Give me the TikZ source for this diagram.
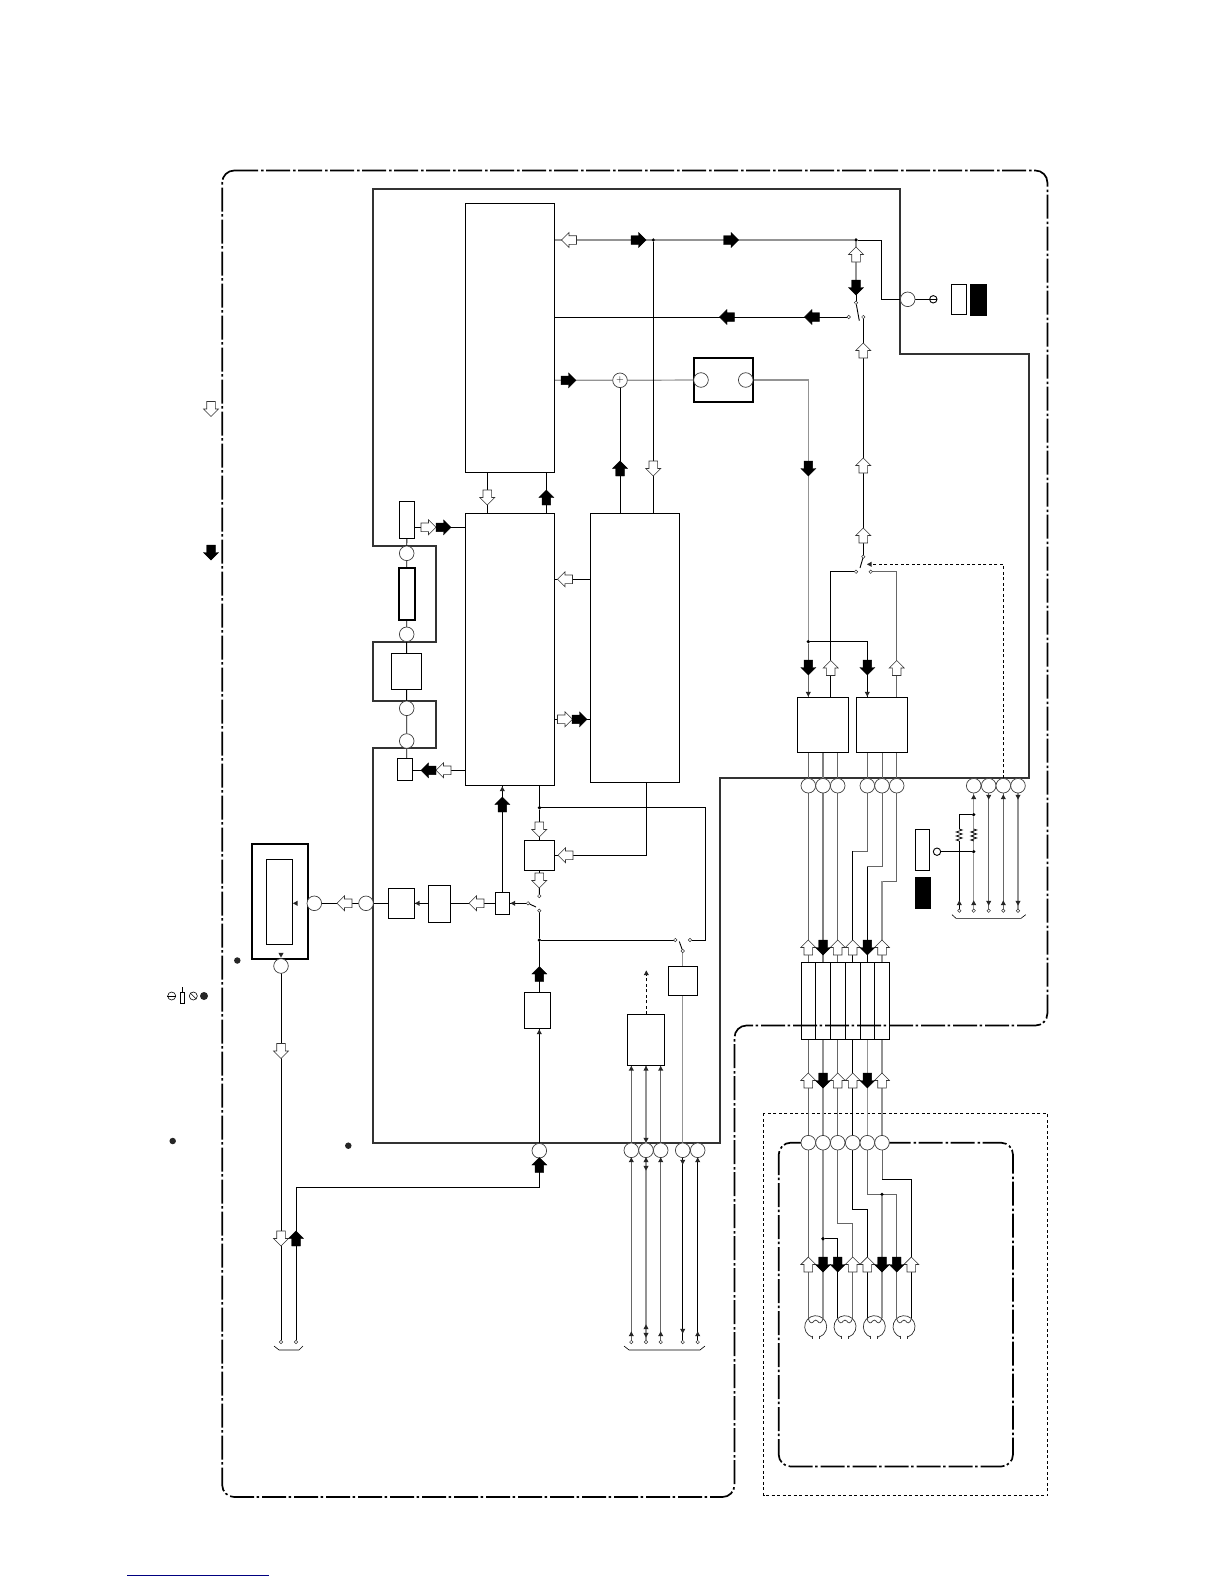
\documentclass[tikz,border=0pt]{standalone}
\usetikzlibrary{backgrounds}
\newcommand\bx[6][boxs]{%
  \pgfmathsetmacro\bxw{#5-#3}\pgfmathsetmacro\bxh{#6-#4}%
  \pgfmathsetmacro\bxx{(#3+#5)/2}\pgfmathsetmacro\bxy{(#4+#6)/2}%
  \node[#1,minimum width=\bxw pt,minimum height=\bxh pt] (#2) at (\bxx,\bxy) {};}
\newcommand\Ho[3]{\pic[hollowarrow,#1] at (#2,#3) {blk};}
\newcommand\So[3]{\pic[solidarrow,#1] at (#2,#3) {blk};}
\newcommand\Tr[3]{\pic[#1] at (#2,#3) {tri};}
\tikzset{
  boxs/.style={draw,line width=0.9pt,fill=white,inner sep=0pt,outer sep=0pt},
  openbox/.style={draw,line width=0.9pt,inner sep=0pt,outer sep=0pt},
  thickbox/.style={draw,line width=1.9pt,fill=white,inner sep=0pt,outer sep=0pt},
  blackbox/.style={draw,fill=black,inner sep=0pt,outer sep=0pt},
  port/.style={circle,draw=black!75,line width=0.7pt,fill=white,minimum size=14.6pt,inner sep=0pt,outer sep=0pt},
  contact/.style={circle,draw=black!80,line width=0.5pt,fill=white,minimum size=3.4pt,inner sep=0pt,outer sep=0pt},
  term/.style={circle,draw,line width=0.9pt,fill=white,minimum size=7.4pt,inner sep=0pt,outer sep=0pt},
  junction/.style={circle,fill=black,minimum size=3.6pt,inner sep=0pt,outer sep=0pt},
  bigdot/.style={circle,fill=black!85,minimum size=6.5pt,inner sep=0pt,outer sep=0pt},
  sig/.style={line width=0.9pt,black},
  msig/.style={line width=0.9pt,black!60},
  gsig/.style={line width=1.2pt,black!42},
  frameline/.style={line width=1.8pt,black!80},
  borderline/.style={line width=1.7pt,black,rounded corners=12pt,dash pattern=on 24pt off 3pt on 2.5pt off 2.5pt},
  dotbox/.style={line width=0.9pt,black,dash pattern=on 3pt off 2.5pt},
  dashsig/.style={line width=0.9pt,black,dash pattern=on 3pt off 2.5pt},
  hollowarrow/.style={draw=black!80,fill=white,line width=0.6pt},
  solidarrow/.style={draw=black,fill=black,line width=0.4pt},
  dirU/.style={rotate=180},dirD/.style={rotate=0},
  dirL/.style={rotate=-90},dirR/.style={rotate=90},
  pics/blk/.style={code={\path[pic actions] (0,7.5)--(7.5,0)--(4.3,0)--(4.3,-7.5)--(-4.3,-7.5)--(-4.3,0)--(-7.5,0)--cycle;}},
  pics/tri/.style={code={\fill[black!85] (0,2.6)--(2.6,-2.2)--(-2.6,-2.2)--cycle;}},
  pics/motor/.style={code={
    \draw[line width=0.7pt,black!80] (-3.5,10.4) arc[start angle=-108.6,delta angle=-322.8,radius=11pt];
    \draw[line width=0.7pt,black!80] (-3.5,9)--(-3.5,12) (3.5,9)--(3.5,12);
    \draw[line width=0.7pt,black!80] (-7.4,-8) .. controls (-6,-3) and (-3,-3) .. (-2,-5.5) .. controls (-1,-7) and (1,-7) .. (2,-5.5) .. controls (3,-3) and (6,-3) .. (7.4,-8);}},
  pics/zig/.style={code={\draw[line width=0.7pt] (0,0)--(3,1)--(-3,3)--(3,5)--(-3,7)--(3,9)--(-3,11)--(0,12);}},
}
\begin{document}
\begin{tikzpicture}[x=1pt,y=-1pt]
\useasboundingbox (0,0) rectangle (1224,1584);
% ---- blocks
\bx{A}{465.3}{203.3}{554.3}{472.3}
\bx{C}{465.3}{513.3}{554.3}{785.3}
\bx{D}{590.3}{513.3}{679.3}{782.3}
\bx{E}{524.3}{840.3}{554.7}{870.7}
\bx{F}{495.3}{892.3}{509.3}{914.3}
\bx{G}{428.3}{885.3}{450.7}{922.3}
\bx{H}{388.3}{888.3}{414.7}{918.3}
\bx[thickbox]{I}{251.7}{844.3}{307.7}{959.3}
\bx{J}{266.3}{859.3}{292.7}{944.7}
\bx{K}{524.3}{992.3}{550.7}{1028.7}
\bx{L}{668.3}{966.3}{697.7}{995.7}
\bx{M}{627.3}{1014.3}{664.7}{1065.5}
\bx{N}{797.3}{697.3}{848.7}{752.3}
\bx{O}{856.3}{697.3}{907.7}{752.3}
\bx[thickbox]{B}{693.8}{357.7}{753.3}{402}
\bx{P1}{399.3}{501.3}{414.7}{538.7}
\bx[thickbox]{P2}{398.7}{567.7}{414.7}{620}
\bx{P3}{391.3}{653.3}{421.7}{689.3}
\bx{P4}{397.3}{758.3}{412.7}{780.3}
\bx{W1}{951.3}{284.3}{966.7}{314.7}
\bx[blackbox]{K1}{970}{284.3}{986}{314.7}
\bx{W2}{915.3}{829.3}{929.7}{870.3}
\bx[blackbox]{K2}{915.3}{877}{930}{907.7}
\bx[openbox]{X1}{801.7}{962.3}{815.7}{1039.3}
\bx[openbox]{X2}{815.7}{962.3}{830.3}{1039.3}
\bx[openbox]{X3}{830.3}{962.3}{845.3}{1039.3}
\bx[openbox]{X4}{845.3}{962.3}{860.3}{1039.3}
\bx[openbox]{X5}{860.3}{962.3}{874.7}{1039.3}
\bx[openbox]{X6}{874.7}{962.3}{889.7}{1039.3}
% ---- ports
\node[port] (pB1) at (701,380) {};
\node[port] (pB2) at (745.7,380) {};
\node[port] (pT)  at (907.7,299.3) {};
\node[port] (p1)  at (406.7,553.3) {};
\node[port] (p2)  at (406.7,634.3) {};
\node[port] (p3)  at (406.7,708.3) {};
\node[port] (p4)  at (406.7,741) {};
\node[port] (pH)  at (366,903.3) {};
\node[port] (pI)  at (314.3,903.3) {};
\node[port] (pJ)  at (281,966) {};
\node[port] (pK)  at (539.3,1150.7) {};
\foreach \n/\x in {m1/631.3,m2/646,m3/660.7,m4/682.7,m5/697.7}{\node[port] (\n) at (\x,1150.3) {};}
\foreach \n/\x in {n1/808.3,n2/823,n3/837.7,o1/867.3,o2/882,o3/896.7,r1/973.7,r2/988.7,r3/1003.3,r4/1018}{\node[port] (\n) at (\x,785.7) {};}
\foreach \n/\x in {q1/808.3,q2/823,q3/837.7,q4/852.7,q5/867.3,q6/882}{\node[port] (\n) at (\x,1142.7) {};}
\node[port,font=\fontsize{10}{10}\selectfont] (sum) at (620,380.3) {+};
% ---- junctions, contacts, terminals
\node[junction] (jT) at (653.3,240) {};
\node[junction] (jS) at (856,240) {};
\node[junction] (jN) at (808.3,641.7) {};
\node[junction] (jC) at (539.5,807.7) {};
\node[junction] (jK) at (539.3,940) {};
\node[junction] (jR1) at (973.7,814.7) {};
\node[junction] (jR2) at (973.7,851.7) {};
\node[junction] (jQ2) at (823,1238.7) {};
\node[junction] (jQ5) at (882,1194.3) {};
\node[contact] (s1c) at (856,302.7) {};
\node[contact] (s1a) at (848.7,317) {};
\node[contact] (s1b) at (863.3,317) {};
\node[contact] (s2c) at (863.3,556.7) {};
\node[contact] (s2a) at (856,571.7) {};
\node[contact] (s2b) at (870.7,571.7) {};
\node[contact] (s3a) at (539.3,896) {};
\node[contact] (s3b) at (539.3,910.7) {};
\node[contact] (s3c) at (528,903.3) {};
\node[contact] (s4a) at (675.3,940) {};
\node[contact] (s4b) at (690,940) {};
\node[contact] (s4c) at (682.7,951) {};
\node[term] (tT) at (933.3,299.3) {};
\node[term] (tR) at (937,851.7) {};
\foreach \n/\x in {b1/281,b2/296,b3/631.3,b4/646,b5/660.7,b6/682.7,b7/697.7}{\node[contact] (\n) at (\x,1342) {};}
\foreach \n/\x in {c0/959.3,c1/973.7,c2/988.7,c3/1003.3,c4/1018}{\node[contact] (\n) at (\x,910.7) {};}
% ---- loose dots and key symbols
\node[bigdot] (d1) at (237.3,960.5) {};
\node[bigdot] (d2) at (172.7,1141) {};
\node[bigdot] (d3) at (348.3,1145.7) {};
\node[circle,draw,line width=0.6pt,minimum size=8pt,inner sep=0pt] (k1) at (171.7,996) {};
\node[draw,line width=0.6pt,minimum width=4pt,minimum height=11pt,inner sep=0pt] (k2) at (182.7,997.5) {};
\node[circle,draw,line width=0.6pt,minimum size=8pt,inner sep=0pt] (k3) at (193.3,996) {};
\node[bigdot,minimum size=8pt] (k4) at (204,996) {};
\draw[line width=0.6pt] (k1.west)--(k1.east);
\coordinate (k2t) at (182.7,987); \draw[line width=0.6pt] (k2.north)--(k2t);
\draw[line width=0.6pt] (k3.north west)--(k3.south east);
\draw[line width=0.9pt] (tT.west)--(tT.east);
% ---- connectors and frames behind the nodes
\begin{pgfonlayer}{background}
\coordinate (f1) at (373.3,189); \coordinate (f2) at (900,189); \coordinate (f3) at (900,354);
\coordinate (f4) at (1029.3,354); \coordinate (f5) at (1029.3,778); \coordinate (f6) at (720,778);
\coordinate (f7) at (720,1143); \coordinate (f8) at (373.3,1143); \coordinate (f9) at (373.3,748.3);
\coordinate (f10) at (436,748.3); \coordinate (f11) at (436,700.7); \coordinate (f12) at (373.3,700.7);
\coordinate (f13) at (373.3,641.7); \coordinate (f14) at (436,641.7); \coordinate (f15) at (436,546); \coordinate (f16) at (373.3,546);
\draw[frameline] (f1)--(f2)--(f3)--(f4)--(f5)--(f6)--(f7)--(f8)--(f9)--(f10)--(f11)--(f12)--(f13)--(f14)--(f15)--(f16)--cycle;
% outer borders
\coordinate (ob1) at (222.2,170.5); \coordinate (ob2) at (1047.4,170.5); \coordinate (ob3) at (1047.4,1025.5);
\coordinate (ob4) at (734.5,1025.5); \coordinate (ob5) at (734.5,1497); \coordinate (ob6) at (222.2,1497);
\draw[borderline] (ob1)--(ob2)--(ob3)--(ob4)--(ob5)--(ob6)--cycle;
\coordinate (v1) at (778.7,1142.7); \coordinate (v2) at (1013,1142.7); \coordinate (v3) at (1013,1466.5); \coordinate (v4) at (778.7,1466.5);
\draw[borderline] (v1)--(v2)--(v3)--(v4)--cycle;
\coordinate (u1) at (763.5,1113.3); \coordinate (u2) at (1047.5,1495.7);
\draw[dotbox] (u1) rectangle (u2);
% upper signals
\draw[gsig] (A.east |- jT)--(jT)--(jS);
\coordinate (aR) at (881.3,240);
\draw[sig] (jS)--(aR) |- (pT);
\draw[sig] (pT)--(tT);
\draw[gsig] (jS)--(856,280);
\draw[sig] (856,280)--(s1c);
\draw[sig] (A.east |- s1a)--(s1a);
\draw[sig] (s1c)--(859.3,320.7);
\draw[sig] (s1b)--(s2c);
\draw[gsig] (A.east |- sum)--(sum)--(pB1);
\draw[msig] (pB1)--(pB2);
\coordinate (bR) at (808.3,380);
\draw[gsig] (pB2)--(bR)--(jN);
\draw[sig] (sum) -- (sum |- D.north);
\draw[sig] (jT) -- (jT |- D.north);
\draw[sig] (s2c)--(860,568);
\coordinate (nR) at (830.7,571.7);
\draw[sig] (s2a)--(nR)--(nR |- N.north);
\coordinate (oR) at (896.7,571.7);
\draw[msig] (s2b)--(oR)--(oR |- O.north);
\draw[msig] (jN)--(jN |- N.north);
\coordinate (oL) at (867.3,641.7);
\draw[sig] (jN)--(oL)--(oL |- O.north);
\coordinate (dsA) at (1003.3,564.3); \coordinate (dsB) at (869,564.3);
\draw[dashsig] (r3)--(dsA)--(dsB);
% A / C / D
\draw[sig] (487.3,472.3)--(487.3,513.3);
\draw[sig] (546.3,472.3)--(546.3,513.3);
\draw[sig] (P1.east |- 0,527.3)--(C.west |- 0,527.3);
\draw[sig] (C.east |- 0,579.3)--(D.west |- 0,579.3);
\draw[sig] (C.east |- 0,719.3)--(D.west |- 0,719.3);
\draw[sig] (P4.east |- 0,770.3)--(C.west |- 0,770.3);
\draw[sig] (P1)--(p1)--(P2)--(p2)--(P3)--(p3)--(p4)--(P4.north -| p4);
% centre
\coordinate (fT) at (502.3,785.3);
\draw[sig] (F.north -| fT)--(fT);
\draw[sig] (jC |- C.south)--(jC);
\coordinate (rB) at (705.3,807.7); \coordinate (rC) at (705.3,940);
\draw[sig] (jC)--(rB)--(rC)--(s4b);
\draw[sig] (jC)--(jC |- E.north);
\draw[sig] (jC |- E.south)--(s3a);
\coordinate (dB) at (646.7,855.3);
\draw[sig] (D.south -| dB)--(dB)--(E.east |- dB);
\draw[sig] (s3c)--(F.east |- s3c);
\draw[sig] (s3c)--(536,907);
\draw[sig] (F.west |- s3c)--(G.east |- s3c);
\draw[sig] (G.west |- s3c)--(H.east |- s3c);
\draw[sig] (H.west |- s3c)--(pH)--(pI)--(J.east |- s3c);
\draw[sig] (s3b)--(jK)--(jK |- K.north);
\draw[sig] (jK)--(s4a);
\draw[sig] (s4c)--(679.3,941.5);
\draw[gsig] (s4c)--(L.north -| s4c);
\draw[gsig] (L.south -| m4)--(m4);
\coordinate (dsC) at (646.3,972);
\draw[dashsig] (M.north -| dsC)--(dsC);
\foreach \n in {m1,m3}{\draw[msig] (\n)--(M.south -| \n);}
\draw[gsig] (m2)--(M.south -| m2);
\draw[sig] (pK)--(pK |- K.south);
\coordinate (kB) at (296,1187.3);
\draw[sig] (pK) |- (kB)--(b2);
\draw[sig] (J.south -| pJ)--(pJ)--(b1);
\draw[msig] (m1)--(b3); \draw[gsig] (m2)--(b4); \draw[msig] (m3)--(b5);
\draw[sig] (m4)--(b6); \draw[sig] (m5)--(b7);
% right bus
\draw[msig] (N.south -| n1)--(n1)--(X1.north -| n1);
\draw[line width=1.3pt,black!50] (N.south -| n2)--(n2)--(X2.north -| n2);
\draw[msig] (N.south -| n3)--(n3)--(X3.north -| n3);
\coordinate (oa) at (867.3,851.3); \coordinate (ob) at (852.7,851.3);
\coordinate (oc) at (882,866.7); \coordinate (od) at (867.3,866.7);
\coordinate (oe) at (896.7,881.3); \coordinate (og) at (882,881.3);
\draw[msig] (O.south -| o1)--(o1)--(oa)--(ob);
\draw[sig] (ob)--(ob |- X4.north);
\draw[msig] (O.south -| o2)--(o2)--(oc)--(od);
\draw[sig] (od)--(od |- X5.north);
\draw[msig] (O.south -| o3)--(o3)--(oe)--(og);
\draw[gsig] (og)--(og |- X6.north);
\draw[msig] (X1.south -| q1)--(q1);
\draw[gsig] (X2.south -| q2)--(q2);
\draw[msig] (X3.south -| q3)--(q3);
\draw[sig] (X4.south -| q4)--(q4);
\draw[gsig] (X5.south -| q5)--(q5);
\draw[gsig] (X6.south -| q6)--(q6);
% lower fan-out to motors
\coordinate (mT) at (0,1318);
\draw[msig] (q1)--(q1 |- mT);
\draw[gsig] (q2)--(q2 |- mT);
\coordinate (e1) at (837.7,1238.7); \coordinate (e2) at (837.7,1318);
\draw[sig] (jQ2)--(e1)--(e2);
\coordinate (e3) at (837.7,1223.7); \coordinate (e4) at (852.7,1223.7); \coordinate (e5) at (852.7,1318);
\draw[msig] (q3)--(e3)--(e4)--(e5);
\coordinate (e6) at (852.7,1209.3); \coordinate (e7) at (867.3,1209.3); \coordinate (e8) at (867.3,1318);
\draw[sig] (q4)--(e6)--(e7)--(e8);
\coordinate (e9) at (867.3,1194.3); \coordinate (e10) at (896.7,1194.3); \coordinate (e11) at (896.7,1318);
\draw[msig] (q5)--(e9)--(e10)--(e11);
\draw[gsig] (jQ5)--(q6 |- mT);
\coordinate (e12) at (882,1179.3); \coordinate (e13) at (911.3,1179.3); \coordinate (e14) at (911.3,1318);
\draw[msig] (q6)--(e12);
\draw[sig] (e12)--(e13)--(e14);
% right control block
\draw[gsig] (r1)--(jR1)--(jR2)--(c1);
\coordinate (rL) at (959.3,814.7);
\draw[sig] (jR1)--(rL)--(959.3,829);
\draw[sig] (959.3,841)--(c0);
\draw[sig] (jR2)--(tR);
\draw[msig] (r2)--(c2);
\draw[msig] (r3)--(c3);
\draw[gsig] (r4)--(c4);
% brackets
\draw[line width=0.6pt] (274,1346)--(279,1350)--(299,1350)--(303,1346);
\draw[line width=0.6pt] (624,1346)--(629,1350)--(700,1350)--(705,1346);
\draw[line width=0.6pt] (952,914.7)--(956,918.3)--(1021,918.3)--(1025.7,914.7);
\end{pgfonlayer}
\pic at (959.3,829) {zig};
\pic at (973.7,829) {zig};
\foreach \x in {815.7,845,874.3,904}{\pic at (\x,1326.7) {motor};}
% ---- hollow arrows
\Ho{dirL}{569}{240}
\Ho{dirD}{653.3}{468.5}
\Ho{dirD}{487.3}{497.5}
\Ho{dirU}{856}{254.5}
\Ho{dirU}{863.3}{350.5}
\Ho{dirU}{863.3}{465.5}
\Ho{dirU}{863.3}{535.5}
\Ho{dirR}{428.5}{527.3}
\Ho{dirL}{565}{579.3}
\Ho{dirR}{565}{719.3}
\Ho{dirL}{443.5}{770.3}
\Ho{dirD}{539.3}{829.5}
\Ho{dirD}{539.3}{880.5}
\Ho{dirL}{565.5}{855.3}
\Ho{dirL}{476.5}{903.3}
\Ho{dirL}{344.5}{903.3}
\Ho{dirD}{281}{1051}
\Ho{dirD}{281}{1238.5}
\Ho{dirU}{830.7}{668}
\Ho{dirU}{896.7}{668}
\foreach \x in {808.3,837.7,852.7,882}{\Ho{dirU}{\x}{947.5}\Ho{dirU}{\x}{1080.5}}
\foreach \x in {808.3,852.7,867.3,911.3}{\Ho{dirU}{\x}{1264.5}}
\Ho{dirD}{211}{409}
% ---- solid arrows
\So{dirR}{638.5}{240}
\So{dirR}{731}{240}
\So{dirR}{568.5}{380.3}
\So{dirU}{620}{468.5}
\So{dirU}{546.3}{497.5}
\So{dirD}{856}{287.5}
\So{dirL}{727}{317}
\So{dirL}{812}{317}
\So{dirD}{808.3}{468.5}
\So{dirR}{443.5}{527.3}
\So{dirR}{579.5}{719.3}
\So{dirL}{428.5}{770.3}
\So{dirU}{502.3}{804.5}
\So{dirU}{539.3}{974}
\So{dirU}{296}{1238.5}
\So{dirU}{539.3}{1165}
\So{dirD}{808.3}{667.5}
\So{dirD}{867.3}{667.5}
\foreach \x in {823,867.3}{\So{dirD}{\x}{947.5}\So{dirD}{\x}{1080.5}}
\foreach \x in {823,837.7,882,896.7}{\So{dirD}{\x}{1264.5}}
\So{dirD}{211}{552.5}
% ---- small arrow heads
\Tr{dirU}{502.3}{789}
\Tr{dirL}{513}{903.3}
\Tr{dirL}{417.5}{903.3}
\Tr{dirL}{295.5}{903.3}
\Tr{dirD}{281}{955}
\Tr{dirU}{539.3}{1032}
\Tr{dirU}{646.3}{973}
\Tr{dirL}{869.5}{564.3}
\Tr{dirD}{808.3}{694}
\Tr{dirD}{867.3}{694}
\foreach \x in {631.3,646,660.7}{\Tr{dirU}{\x}{1068.5}}
\Tr{dirD}{646}{1140}
\foreach \x in {631.3,646,660.7,697.7}{\Tr{dirU}{\x}{1160}}
\Tr{dirD}{646}{1168}
\Tr{dirD}{682.7}{1162}
\foreach \x in {631.3,660.7,697.7}{\Tr{dirU}{\x}{1334}}
\Tr{dirU}{646}{1327}
\Tr{dirD}{646}{1335}
\Tr{dirD}{682.7}{1331}
\foreach \x in {973.7,1003.3}{\Tr{dirU}{\x}{797}}
\foreach \x in {988.7,1018}{\Tr{dirD}{\x}{797}}
\foreach \x in {959.3,973.7,1003.3}{\Tr{dirU}{\x}{903}}
\foreach \x in {988.7,1018}{\Tr{dirD}{\x}{903}}
\coordinate (ul1) at (127,1575); \coordinate (ul2) at (269,1575);
\draw[line width=1pt,blue!50!black] (ul1)--(ul2);
\end{tikzpicture}
\end{document}
